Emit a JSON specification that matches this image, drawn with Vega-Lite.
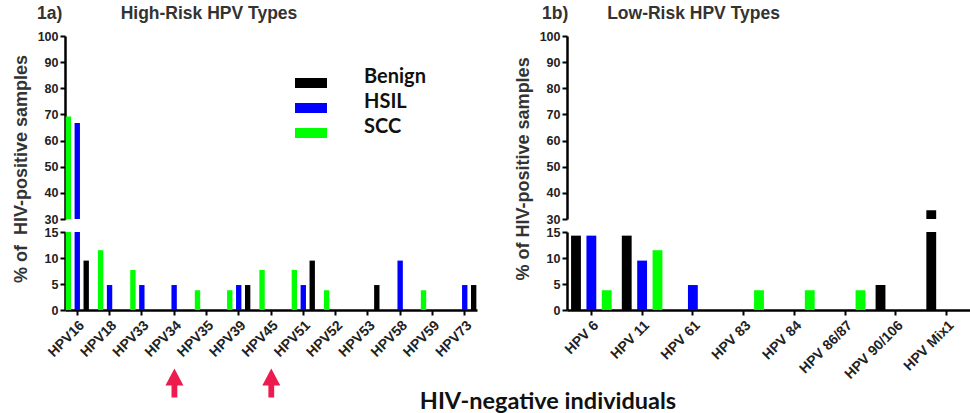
{
  "$schema": "https://vega.github.io/schema/vega-lite/v6.json",
  "background": "white",
  "padding": {"left": 12, "top": 4, "right": 0, "bottom": 0},
  "config": {
    "view": {"stroke": null},
    "axis": {
      "grid": false,
      "domainColor": "#000",
      "domainWidth": 2.5,
      "tickColor": "#000",
      "tickWidth": 2,
      "tickSize": 5,
      "labelFont": "Liberation Sans",
      "labelFontWeight": "bold",
      "labelColor": "#222",
      "labelFontSize": 12.5,
      "labelPadding": 2,
      "labelOverlap": false
    },
    "legend": {
      "labelFont": "Lato",
      "labelFontWeight": "bold",
      "labelFontSize": 20,
      "labelColor": "#111",
      "labelOffset": 43,
      "labelBaseline": "alphabetic",
      "rowPadding": 4,
      "symbolType": "M-1.6,-0.5H1.6V0.5H-1.6Z",
      "symbolSize": 400,
      "symbolStrokeWidth": 0,
      "title": null
    }
  },
  "datasets": {
    "high": [
      {"type": "HPV16", "group": "SCC", "pct": 69.2},
      {"type": "HPV16", "group": "HSIL", "pct": 66.7},
      {"type": "HPV16", "group": "Benign", "pct": 9.5},
      {"type": "HPV18", "group": "SCC", "pct": 11.5},
      {"type": "HPV18", "group": "HSIL", "pct": 4.8},
      {"type": "HPV33", "group": "SCC", "pct": 7.7},
      {"type": "HPV33", "group": "HSIL", "pct": 4.8},
      {"type": "HPV34", "group": "HSIL", "pct": 4.8},
      {"type": "HPV35", "group": "SCC", "pct": 3.8},
      {"type": "HPV39", "group": "SCC", "pct": 3.8},
      {"type": "HPV39", "group": "HSIL", "pct": 4.8},
      {"type": "HPV39", "group": "Benign", "pct": 4.8},
      {"type": "HPV45", "group": "SCC", "pct": 7.7},
      {"type": "HPV51", "group": "SCC", "pct": 7.7},
      {"type": "HPV51", "group": "HSIL", "pct": 4.8},
      {"type": "HPV51", "group": "Benign", "pct": 9.5},
      {"type": "HPV52", "group": "SCC", "pct": 3.8},
      {"type": "HPV53", "group": "Benign", "pct": 4.8},
      {"type": "HPV58", "group": "HSIL", "pct": 9.5},
      {"type": "HPV59", "group": "SCC", "pct": 3.8},
      {"type": "HPV73", "group": "HSIL", "pct": 4.8},
      {"type": "HPV73", "group": "Benign", "pct": 4.8}
    ],
    "low": [
      {"type": "HPV 6", "group": "Benign", "pct": 14.3},
      {"type": "HPV 6", "group": "HSIL", "pct": 14.3},
      {"type": "HPV 6", "group": "SCC", "pct": 3.8},
      {"type": "HPV 11", "group": "Benign", "pct": 14.3},
      {"type": "HPV 11", "group": "HSIL", "pct": 9.5},
      {"type": "HPV 11", "group": "SCC", "pct": 11.5},
      {"type": "HPV 61", "group": "HSIL", "pct": 4.8},
      {"type": "HPV 83", "group": "SCC", "pct": 3.8},
      {"type": "HPV 84", "group": "SCC", "pct": 3.8},
      {"type": "HPV 86/87", "group": "SCC", "pct": 3.8},
      {"type": "HPV 90/106", "group": "Benign", "pct": 4.8},
      {"type": "HPV Mix1", "group": "Benign", "pct": 33.3}
    ],
    "arrows": [
      {"type": "HPV35"},
      {"type": "HPV51"}
    ]
  },
  "title": {
    "text": "HIV-negative individuals",
    "orient": "bottom",
    "anchor": "middle",
    "dx": 56,
    "offset": -8,
    "font": "Lato",
    "fontSize": 23.5,
    "fontWeight": "bold",
    "color": "#111"
  },
  "spacing": 38,
  "hconcat": [
    {
      "spacing": 0,
      "title": {
        "text": "% of\u00a0\u00a0HIV-positive samples",
        "orient": "left",
        "anchor": "middle",
        "dx": 32,
        "font": "Liberation Sans",
        "fontSize": 18,
        "fontWeight": "bold",
        "color": "#333",
        "offset": 6
      },
      "vconcat": [
        {
          "width": 412,
          "height": 183,
          "title": {
            "text": "1a)\u00a0\u00a0\u00a0\u00a0\u00a0\u00a0\u00a0\u00a0\u00a0\u00a0\u00a0\u00a0High-Risk HPV Types",
            "anchor": "start",
            "frame": "group",
            "dx": -28,
            "font": "Liberation Sans",
            "fontSize": 17.5,
            "fontWeight": "bold",
            "color": "#333",
            "offset": 8
          },
          "data": {"name": "high"},
          "mark": {"type": "bar", "clip": true},
          "encoding": {
            "x": {
              "field": "type", "type": "nominal", "axis": null,
              "scale": {"domain": ["HPV16","HPV18","HPV33","HPV34","HPV35","HPV39","HPV45","HPV51","HPV52","HPV53","HPV58","HPV59","HPV73"], "paddingInner": 0.28, "paddingOuter": 0.02}
            },
            "xOffset": {"field": "group", "type": "nominal", "scale": {"domain": ["SCC","HSIL","Benign"], "paddingInner": 0.4}},
            "y": {
              "field": "pct", "type": "quantitative",
              "scale": {"domain": [30, 100], "nice": false, "zero": false},
              "axis": {"values": [30,40,50,60,70,80,90,100], "title": null}
            },
            "color": {
              "field": "group", "type": "nominal",
              "scale": {"domain": ["Benign","HSIL","SCC"], "range": ["#000000","#0000ff","#00ff00"]},
              "legend": {"orient": "none", "legendX": 236, "legendY": 37}
            }
          }
        },
        {
          "width": 412,
          "height": 78,
          "layer": [
            {
              "data": {"name": "high"},
              "mark": {"type": "bar", "clip": true},
              "encoding": {
                "x": {
                  "field": "type", "type": "nominal", "title": null,
                  "scale": {"domain": ["HPV16","HPV18","HPV33","HPV34","HPV35","HPV39","HPV45","HPV51","HPV52","HPV53","HPV58","HPV59","HPV73"], "paddingInner": 0.28, "paddingOuter": 0.02},
                  "axis": {"labelAngle": -45, "labelFontSize": 14, "labelPadding": 3}
                },
                "xOffset": {"field": "group", "type": "nominal", "scale": {"domain": ["SCC","HSIL","Benign"], "paddingInner": 0.4}},
                "y": {
                  "field": "pct", "type": "quantitative",
                  "scale": {"domain": [0, 15], "nice": false},
                  "axis": {"values": [0,5,10,15], "title": null}
                },
                "color": {"field": "group", "type": "nominal"}
              }
            },
            {
              "data": {"name": "arrows"},
              "mark": {"type": "point", "shape": "M0,-1L0.62,0.17L0.2,0.17L0.2,1L-0.2,1L-0.2,0.17L-0.62,0.17Z", "size": 841, "filled": true, "opacity": 1, "color": "#ee1b4e", "strokeWidth": 0, "xOffset": -32, "yOffset": 73},
              "encoding": {
                "x": {"field": "type", "type": "nominal", "title": null},
                "y": {"datum": 0, "type": "quantitative", "axis": {"values": [0,5,10,15], "title": null}}
              }
            }
          ]
        }
      ]
    },
    {
      "spacing": 0,
      "title": {
        "text": "% of HIV-positive samples",
        "orient": "left",
        "anchor": "middle",
        "dx": 24,
        "font": "Liberation Sans",
        "fontSize": 18,
        "fontWeight": "bold",
        "color": "#333",
        "offset": 6
      },
      "vconcat": [
        {
          "width": 404,
          "height": 183,
          "title": {
            "text": "1b)\u00a0\u00a0\u00a0\u00a0\u00a0\u00a0\u00a0\u00a0Low-Risk HPV Types",
            "anchor": "start",
            "frame": "group",
            "dx": -25,
            "font": "Liberation Sans",
            "fontSize": 17.5,
            "fontWeight": "bold",
            "color": "#333",
            "offset": 8
          },
          "data": {"name": "low"},
          "mark": {"type": "bar", "clip": true},
          "encoding": {
            "x": {
              "field": "type", "type": "nominal", "axis": null,
              "scale": {"domain": ["HPV 6","HPV 11","HPV 61","HPV 83","HPV 84","HPV 86/87","HPV 90/106","HPV Mix1"], "paddingInner": 0.2, "paddingOuter": 0.08}
            },
            "xOffset": {"field": "group", "type": "nominal", "scale": {"domain": ["Benign","HSIL","SCC"], "paddingInner": 0.36}},
            "y": {
              "field": "pct", "type": "quantitative",
              "scale": {"domain": [30, 100], "nice": false, "zero": false},
              "axis": {"values": [30,40,50,60,70,80,90,100], "title": null}
            },
            "color": {"field": "group", "type": "nominal"}
          }
        },
        {
          "width": 404,
          "height": 78,
          "data": {"name": "low"},
          "mark": {"type": "bar", "clip": true},
          "encoding": {
            "x": {
              "field": "type", "type": "nominal", "title": null,
              "scale": {"domain": ["HPV 6","HPV 11","HPV 61","HPV 83","HPV 84","HPV 86/87","HPV 90/106","HPV Mix1"], "paddingInner": 0.2, "paddingOuter": 0.08},
              "axis": {"labelAngle": -45, "labelFontSize": 14, "labelPadding": 3}
            },
            "xOffset": {"field": "group", "type": "nominal", "scale": {"domain": ["Benign","HSIL","SCC"], "paddingInner": 0.36}},
            "y": {
              "field": "pct", "type": "quantitative",
              "scale": {"domain": [0, 15], "nice": false},
              "axis": {"values": [0,5,10,15], "title": null}
            },
            "color": {"field": "group", "type": "nominal"}
          }
        }
      ]
    }
  ],
  "resolve": {"scale": {"x": "independent", "xOffset": "independent", "y": "independent"}}
}
